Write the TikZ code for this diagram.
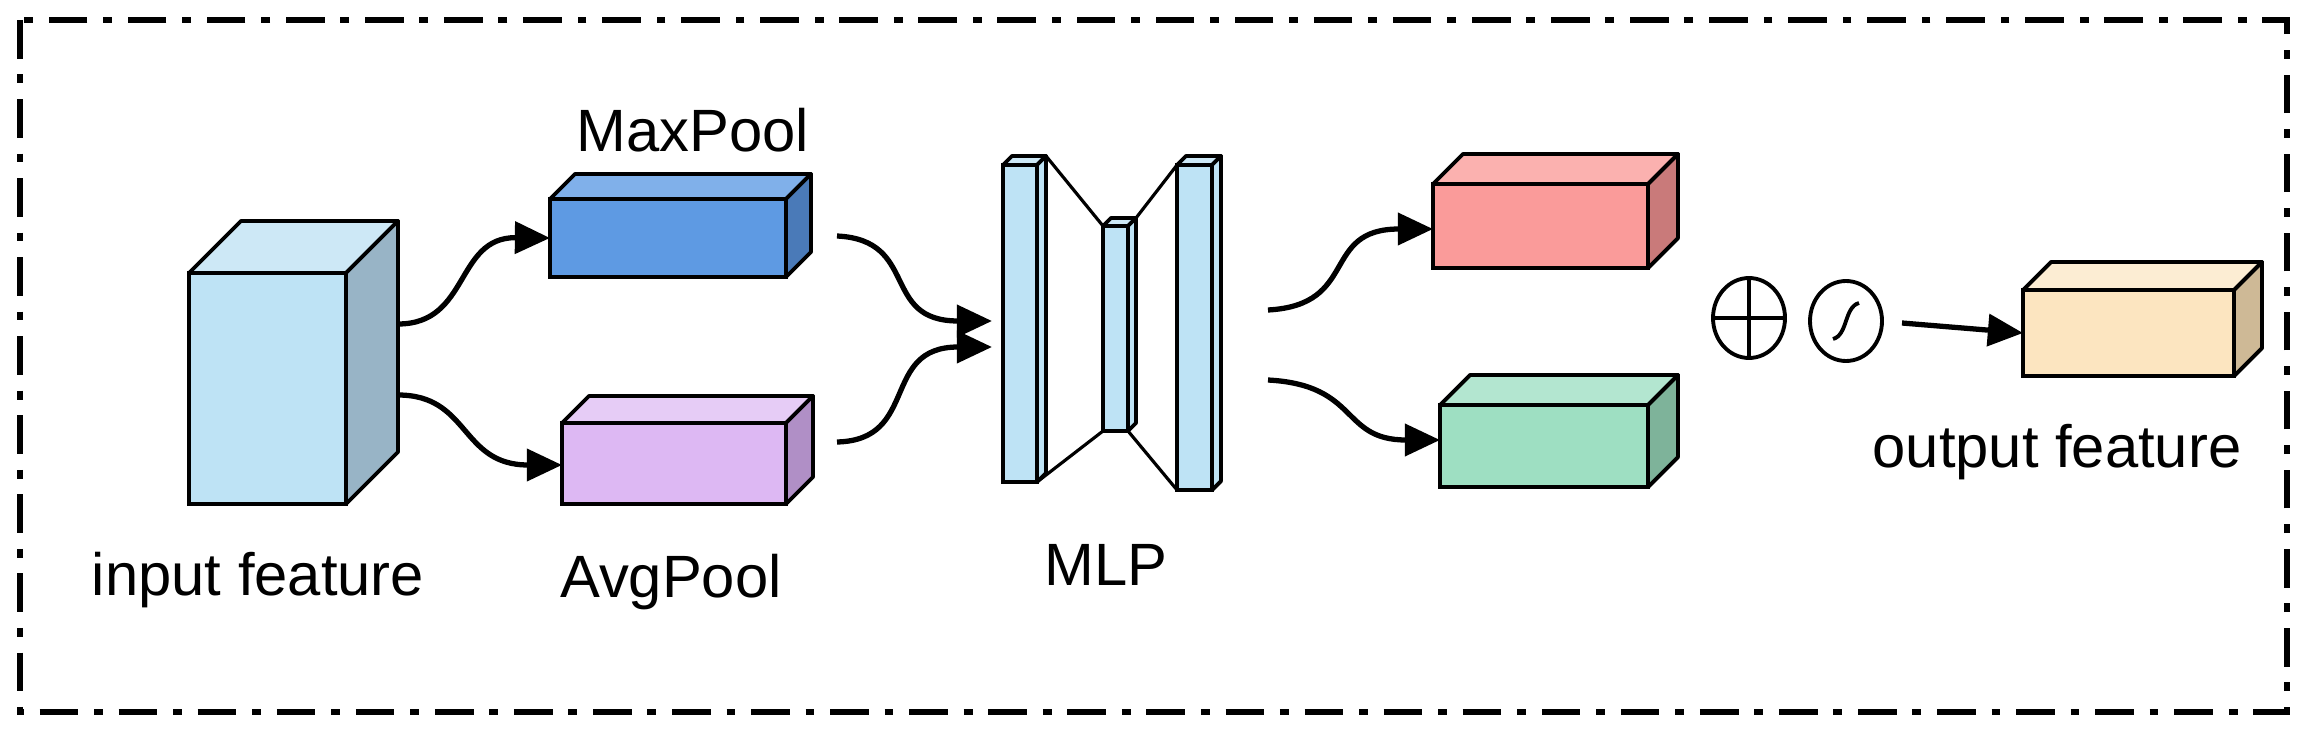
\documentclass[tikz,border=0pt]{standalone}
\usepackage{fontspec}
\setmainfont{Liberation Sans}
\usetikzlibrary{arrows.meta,shapes.geometric}
\definecolor{inF}{HTML}{BEE3F5}\definecolor{inT}{HTML}{CDE8F6}\definecolor{inS}{HTML}{98B4C6}
\definecolor{mxF}{HTML}{5E9AE3}\definecolor{mxT}{HTML}{80B0EA}\definecolor{mxS}{HTML}{4A7AB8}
\definecolor{avF}{HTML}{DDB8F3}\definecolor{avT}{HTML}{E6CCF6}\definecolor{avS}{HTML}{B08FC6}
\definecolor{rdF}{HTML}{FA9B9A}\definecolor{rdT}{HTML}{FBB1AF}\definecolor{rdS}{HTML}{C97A7A}
\definecolor{gnF}{HTML}{9EDFC2}\definecolor{gnT}{HTML}{B3E6D0}\definecolor{gnS}{HTML}{7EB39A}
\definecolor{otF}{HTML}{FCE5C0}\definecolor{otT}{HTML}{FCEDD3}\definecolor{otS}{HTML}{CEB996}
\newcommand{\mycube}[9]{%
  \node[face,fill=#7,anchor=north west,minimum width=#4*0.02cm,minimum height=#5*0.02cm] (#1) at (#2,#3) {};
  \draw[facel,fill=#8] (#1.north west) -- ++(#6,-#6) -- ++(#4,0) -- (#1.north east) -- cycle;
  \draw[facel,fill=#9] (#1.north east) -- ++(#6,-#6) -- ++(0,#5) -- (#1.south east) -- cycle;
}
\tikzset{
  face/.style={draw,line width=2.2pt,inner sep=0pt,outer sep=0pt},
  facel/.style={line width=2.2pt,line join=round},
  conn/.style={line width=3pt,-{Triangle[length=20pt,width=18pt]}},
  lab/.style={font=\fontsize{34}{40}\selectfont,inner sep=0pt},
  mline/.style={line width=1.8pt},
  opn/.style={draw,line width=2.2pt,ellipse,minimum width=72*0.02cm,minimum height=80*0.02cm,inner sep=0pt}
}
\begin{document}
\begin{tikzpicture}[x=0.02cm,y=-0.02cm]
\useasboundingbox (0,0) rectangle (2312,736);
\draw[line width=3.5pt,dash pattern=on 22pt off 9pt on 5pt off 9pt] (20,20) rectangle (2287,712);
% cubes
\mycube{inp}{189}{273}{157}{231}{52}{inF}{inT}{inS}
\mycube{mx}{550}{199}{236}{78}{25}{mxF}{mxT}{mxS}
\mycube{av}{562}{423}{224}{81}{27}{avF}{avT}{avS}
\mycube{rd}{1433}{184}{215}{84}{30}{rdF}{rdT}{rdS}
\mycube{gn}{1440}{405}{208}{82}{30}{gnF}{gnT}{gnS}
\mycube{ot}{2023}{290}{211}{86}{28}{otF}{otT}{otS}
% MLP bars
\mycube{b1}{1003}{165}{34}{317}{9}{inF}{inT}{inF}
\mycube{b2}{1103}{226}{25}{205}{8}{inF}{inT}{inF}
\mycube{b3}{1177}{165}{35}{325}{9}{inF}{inT}{inF}
\draw[mline] ([shift={(9,-9)}]b1.north east) -- (b2.north west);
\draw[mline] (b1.south east) -- (b2.south west);
\draw[mline] ([shift={(8,-8)}]b2.north east) -- (b3.north west);
\draw[mline] (b2.south east) -- (b3.south west);
% labels
\node[lab] (lmx) at (693,130) {MaxPool};
\node[lab] (lav) at (671,582) {AvgPool};
\node[lab] (lin) at (258,580) {input feature};
\node[lab] (lml) at (1106,565) {MLP};
\node[lab] (lot) at (2057,452) {output feature};
% operators
\node[opn] (op) at (1749,318) {};
\draw[line width=2.5pt] (op.west) -- (op.east) (op.north) -- (op.south);
\node[opn] (sg) at (1846,321) {};
\draw[line width=2.2pt] ([shift={(-13,18)}]sg.center) .. controls ([shift={(2,14)}]sg.center) and ([shift={(-2,-14)}]sg.center) .. ([shift={(13,-18)}]sg.center);
\coordinate (a0) at (1902,323);
\draw[conn] (a0) -- (ot.west);
% connectors
\coordinate (i1) at (398,324); \coordinate (i2) at (398,395);
\draw[conn] (i1) .. controls (470,324) and (455,237) .. (mx.west);
\draw[conn] (i2) .. controls (470,395) and (460,465) .. (av.west |- 0,465);
\coordinate (m1) at (837,236); \coordinate (m2) at (837,442);
\coordinate (t1) at (992,321); \coordinate (t2) at (992,347);
\draw[conn] (m1) .. controls (920,240) and (880,321) .. (t1);
\draw[conn] (m2) .. controls (920,440) and (880,347) .. (t2);
\coordinate (r1) at (1268,310); \coordinate (r2) at (1268,380);
\draw[conn] (r1) .. controls (1360,305) and (1320,229) .. (rd.west |- 0,229);
\draw[conn] (r2) .. controls (1360,385) and (1340,440) .. (gn.west |- 0,440);
\end{tikzpicture}
\end{document}
